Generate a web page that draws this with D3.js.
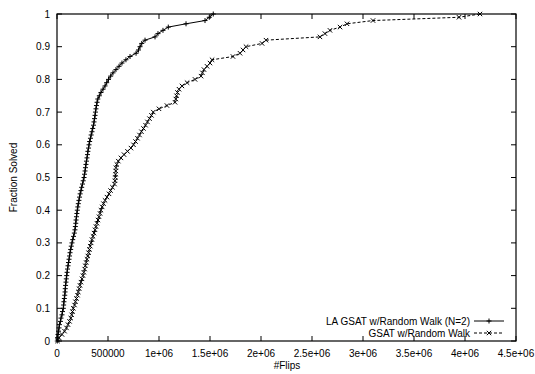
<!DOCTYPE html>
<html><head><meta charset="utf-8">
<script src="https://cdn.jsdelivr.net/npm/d3@7"></script>
<style>
body{margin:0;background:#fff;}
text{font-family:"Liberation Sans",Arial,sans-serif;font-size:10px;fill:#000;}
</style></head>
<body><svg id="c" width="535" height="374"></svg>
<script>
const fractions = d3.range(0, 101).map(i => i / 100);
const laGsatFlips = [3000,5000,10000,15000,20000,24000,34000,39000,49000,54000,62000,
65000,68000,72000,76000,79000,81000,84000,88000,91000,95000,
99000,103000,108000,113000,118000,123000,128000,134000,140000,147000,
154000,162000,170000,176000,180000,184000,187000,191000,195000,199000,
204000,209000,215000,221000,227000,235000,242000,250000,257000,265000,
270000,275000,279000,284000,289000,294000,299000,303000,309000,314000,
320000,328000,335000,343000,350000,358000,363000,368000,373000,377000,
382000,387000,393000,400000,415000,431000,451000,471000,487000,505000,
526000,549000,578000,608000,637000,676000,716000,775000,799000,814000,
831000,863000,961000,990000,1039000,1091000,1265000,1451000,1493000,1532000];
const gsatFlips = [5000,20000,49000,74000,93000,108000,123000,135000,144000,152000,160000,
172000,181000,191000,201000,209000,218000,225000,235000,245000,255000,
263000,271000,278000,286000,294000,302000,310000,318000,326000,335000,
343000,353000,363000,373000,382000,392000,402000,412000,422000,431000,
443000,456000,471000,490000,510000,525000,544000,564000,569000,572000,
574000,576000,578000,586000,601000,627000,657000,691000,725000,750000,
770000,789000,809000,828000,848000,868000,887000,907000,926000,944000,
1000000,1078000,1157000,1165000,1172000,1181000,1196000,1225000,1275000,1353000,
1412000,1426000,1441000,1471000,1500000,1520000,1725000,1794000,1824000,1853000,
2010000,2049000,2578000,2627000,2676000,2775000,2843000,3098000,3941000,4147000];
const xTicks = [0,500000,1000000,1500000,2000000,2500000,3000000,3500000,4000000,4500000];
const xTickLabels = ["0","500000","1e+06","1.5e+06","2e+06","2.5e+06","3e+06","3.5e+06","4e+06","4.5e+06"];
const yTicks = [0,0.1,0.2,0.3,0.4,0.5,0.6,0.7,0.8,0.9,1];
const yTickLabels = ["0","0.1","0.2","0.3","0.4","0.5","0.6","0.7","0.8","0.9","1"];
const seriesNames = ["LA GSAT w/Random Walk (N=2)","GSAT w/Random Walk"];

const L=57,R=516,T=14,B=341;
const svg=d3.select("#c");
const x=d3.scaleLinear().domain([0,4500000]).range([L,R]);
const y=d3.scaleLinear().domain([0,1]).range([B,T]);

const g=svg.append("g");
const tl=5;
xTicks.forEach((v,i)=>{
  g.append("line").attr("x1",x(v)).attr("x2",x(v)).attr("y1",B).attr("y2",B-tl).attr("stroke","#000");
  g.append("line").attr("x1",x(v)).attr("x2",x(v)).attr("y1",T).attr("y2",T+tl).attr("stroke","#000");
  g.append("text").attr("x",x(v)).attr("y",B+16).attr("text-anchor","middle").text(xTickLabels[i]);
});
yTicks.forEach((v,i)=>{
  g.append("line").attr("x1",L).attr("x2",L+tl).attr("y1",y(v)).attr("y2",y(v)).attr("stroke","#000");
  g.append("line").attr("x1",R).attr("x2",R-tl).attr("y1",y(v)).attr("y2",y(v)).attr("stroke","#000");
  g.append("text").attr("x",L-7).attr("y",y(v)+3.5).attr("text-anchor","end").text(yTickLabels[i]);
});
g.append("rect").attr("x",L).attr("y",T).attr("width",R-L).attr("height",B-T).attr("fill","none").attr("stroke","#000").attr("stroke-width",1.2);

svg.append("text").attr("x",287).attr("y",369).attr("text-anchor","middle").text("#Flips");
svg.append("text").attr("transform","translate(17,"+((T+B)/2)+") rotate(-90)").attr("text-anchor","middle").text("Fraction Solved");

const line=d3.line().x(d=>x(d[0])).y(d=>y(d[1]));
const la=laGsatFlips.map((v,i)=>[v,fractions[i]]);
const gs=gsatFlips.map((v,i)=>[v,fractions[i]]);

const plus=(sel,cx,cy)=>{sel.append("path").attr("d",`M${cx-2.5},${cy}H${cx+2.5}M${cx},${cy-2.5}V${cy+2.5}`).attr("stroke","#000").attr("stroke-width",1);};
const cross=(sel,cx,cy)=>{sel.append("path").attr("d",`M${cx-2.2},${cy-2.2}L${cx+2.2},${cy+2.2}M${cx-2.2},${cy+2.2}L${cx+2.2},${cy-2.2}`).attr("stroke","#000").attr("stroke-width",1);};

svg.append("path").datum(gs).attr("d",line).attr("fill","none").attr("stroke","#000").attr("stroke-width",1).attr("stroke-dasharray","3,2");
const gm=svg.append("g");
gs.forEach(d=>cross(gm,x(d[0]),y(d[1])));

svg.append("path").datum(la).attr("d",line).attr("fill","none").attr("stroke","#000").attr("stroke-width",1);
const lm=svg.append("g");
la.forEach(d=>plus(lm,x(d[0]),y(d[1])));

const ly1=321, ly2=333;
svg.append("text").attr("x",470).attr("y",ly1+3.5).attr("text-anchor","end").text(seriesNames[0]);
svg.append("line").attr("x1",474).attr("x2",504).attr("y1",ly1).attr("y2",ly1).attr("stroke","#000");
plus(svg,489,ly1);
svg.append("text").attr("x",470).attr("y",ly2+3.5).attr("text-anchor","end").text(seriesNames[1]);
svg.append("line").attr("x1",474).attr("x2",504).attr("y1",ly2).attr("y2",ly2).attr("stroke","#000").attr("stroke-dasharray","3,2");
cross(svg,489,ly2);
</script></body></html>
